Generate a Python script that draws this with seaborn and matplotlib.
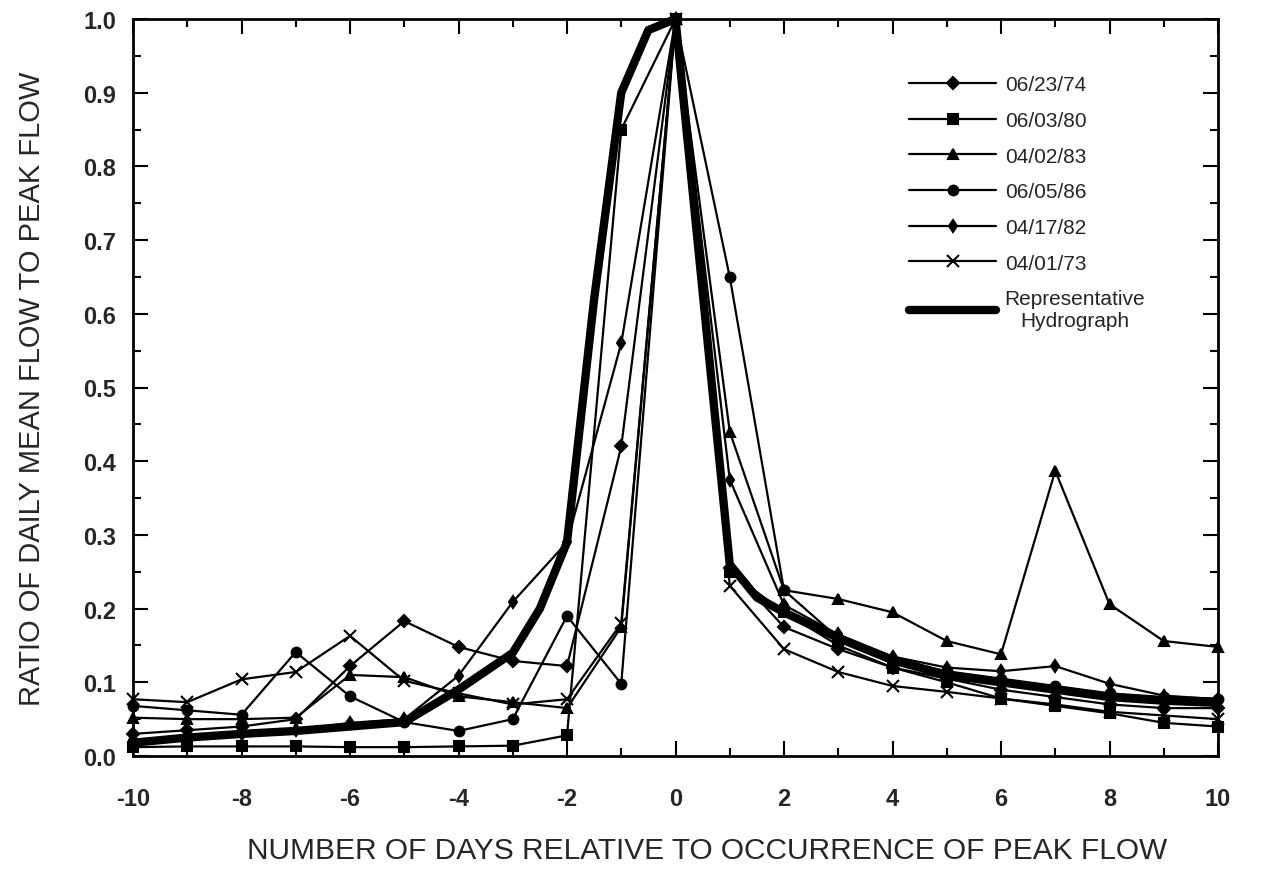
import numpy as np
import pandas as pd
import matplotlib
matplotlib.use("Agg")
import matplotlib.pyplot as plt
from matplotlib.ticker import MultipleLocator, FormatStrFormatter
import seaborn as sns

# days relative to the peak
days = list(range(-10, 11))

# ratio of daily mean flow to peak flow, one list per event
flow_062374 = [0.030, 0.035, 0.040, 0.050, 0.122, 0.183, 0.148, 0.129, 0.122, 0.420, 1.0,
               0.255, 0.175, 0.145, 0.120, 0.105, 0.090, 0.080, 0.070, 0.065, 0.065]
flow_060380 = [0.012, 0.013, 0.013, 0.013, 0.012, 0.012, 0.013, 0.014, 0.028, 0.850, 1.0,
               0.250, 0.195, 0.150, 0.120, 0.100, 0.078, 0.068, 0.058, 0.045, 0.040]
flow_040283 = [0.052, 0.050, 0.050, 0.052, 0.110, 0.107, 0.081, 0.073, 0.065, 0.175, 1.0,
               0.440, 0.225, 0.213, 0.195, 0.156, 0.138, 0.387, 0.206, 0.156, 0.148]
flow_060586 = [0.068, 0.062, 0.056, 0.141, 0.081, 0.046, 0.034, 0.050, 0.190, 0.098, 1.0,
               0.650, 0.225, 0.160, 0.130, 0.115, 0.105, 0.095, 0.085, 0.080, 0.078]
flow_041782 = [0.022, 0.025, 0.030, 0.035, 0.045, 0.050, 0.109, 0.209, 0.290, 0.560, 1.0,
               0.375, 0.205, 0.165, 0.135, 0.120, 0.115, 0.122, 0.098, 0.082, 0.077]
flow_040173 = [0.077, 0.073, 0.104, 0.114, 0.163, 0.102, 0.085, 0.070, 0.077, 0.180, 1.0,
               0.231, 0.145, 0.114, 0.095, 0.087, 0.078, 0.070, 0.060, 0.055, 0.050]

# representative hydrograph (extra points near the peak)
rep_days = [-10, -9, -8, -7, -6, -5, -4, -3, -2.5, -2, -1.5, -1, -0.5, 0,
            1, 1.5, 2, 3, 4, 5, 6, 7, 8, 9, 10]
rep_flow = [0.018, 0.025, 0.030, 0.034, 0.040, 0.046, 0.090, 0.140, 0.200, 0.290, 0.620, 0.900, 0.985, 1.0,
            0.260, 0.215, 0.195, 0.160, 0.130, 0.110, 0.100, 0.090, 0.080, 0.075, 0.072]

events = ["06/23/74", "06/03/80", "04/02/83", "06/05/86", "04/17/82", "04/01/73"]
series = [flow_062374, flow_060380, flow_040283, flow_060586, flow_041782, flow_040173]
markers = ["D", "s", "^", "o", "d", "x"]
marker_sizes = [6, 7, 7, 7, 6, 8]

sns.set_style("ticks")
plt.rcParams["font.family"] = ["Liberation Sans", "DejaVu Sans"]
plt.rcParams["axes.unicode_minus"] = False

fig = plt.figure(figsize=(12.61, 8.78), dpi=100)
ax = fig.add_axes([133 / 1261, 1 - 757 / 878, (1218 - 133) / 1261, (757 - 20) / 878])

for name, vals, mk, ms in zip(events, series, markers, marker_sizes):
    df = pd.DataFrame({"day": days, "ratio": vals})
    sns.lineplot(data=df, x="day", y="ratio", ax=ax, color="black", linewidth=1.6,
                 marker=mk, markersize=ms, markeredgecolor="black", markeredgewidth=1.5,
                 label=name, clip_on=False)

rep_df = pd.DataFrame({"day": rep_days, "ratio": rep_flow})
sns.lineplot(data=rep_df, x="day", y="ratio", ax=ax, color="black", linewidth=6,
             label="Representative\nHydrograph", clip_on=False)

ax.set_xlim(-10, 10)
ax.set_ylim(0, 1.0)
ax.xaxis.set_major_locator(MultipleLocator(2))
ax.xaxis.set_minor_locator(MultipleLocator(1))
ax.yaxis.set_major_locator(MultipleLocator(0.1))
ax.yaxis.set_minor_locator(MultipleLocator(0.05))
ax.yaxis.set_major_formatter(FormatStrFormatter("%.1f"))

ax.tick_params(which="both", direction="in", top=True, right=True, width=1.5, color="black")
ax.tick_params(which="major", length=11)
ax.tick_params(which="minor", length=6)
ax.tick_params(axis="x", which="major", pad=22, labelsize=17)
ax.tick_params(axis="y", which="major", pad=12, labelsize=17)
for lab in ax.get_xticklabels() + ax.get_yticklabels():
    lab.set_fontweight("bold")

for sp in ax.spines.values():
    sp.set_linewidth(2)
    sp.set_color("black")

ax.set_xlabel("NUMBER OF DAYS RELATIVE TO OCCURRENCE OF PEAK FLOW", fontsize=21.5)
ax.xaxis.set_label_coords(0.529, -0.108)
ax.set_ylabel("RATIO OF DAILY MEAN FLOW TO PEAK FLOW", fontsize=21, labelpad=27)

leg = ax.legend(loc="upper left", bbox_to_anchor=(0.7074, 0.935), frameon=False,
                fontsize=15, handlelength=4.2, handletextpad=0.4, labelspacing=0.8,
                borderaxespad=0)
for t in leg.get_texts():
    t.set_multialignment("center")

fig.savefig("out.png", dpi=100)
